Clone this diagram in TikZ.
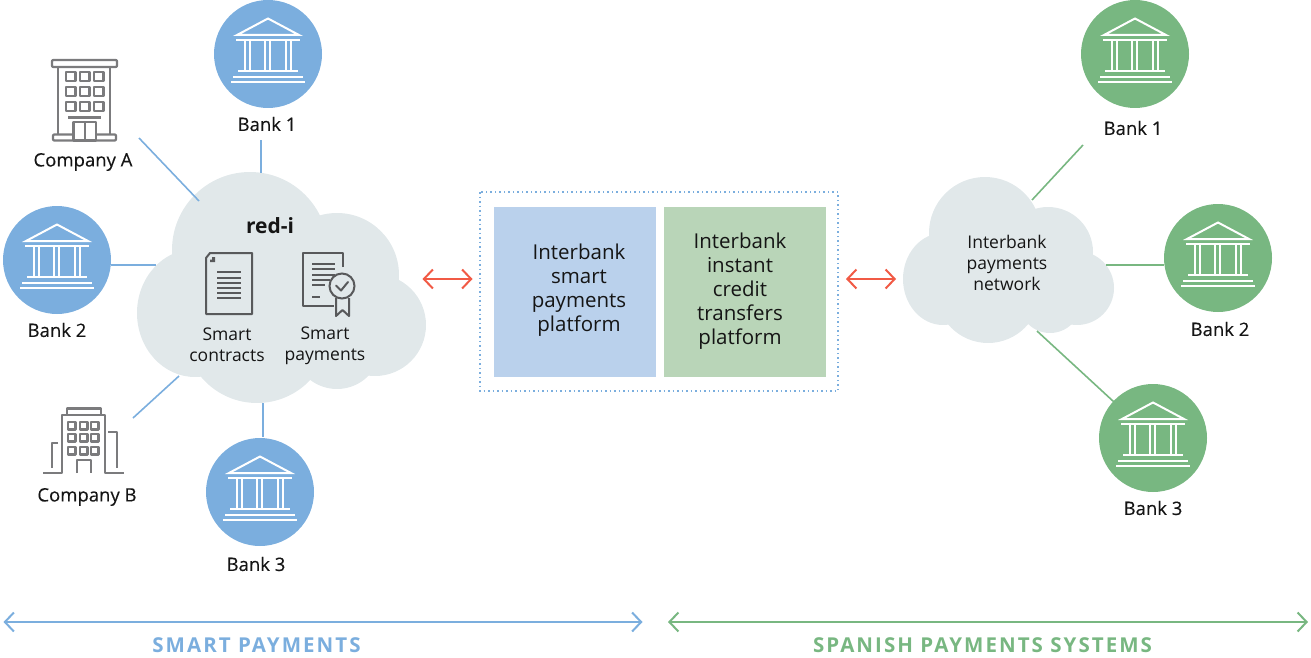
\documentclass[tikz,border=0pt]{standalone}
\usepackage{fontspec}
\setmainfont{Open Sans}
\newfontfamily\lblfont[FakeBold=0.2]{Open Sans}
\newfontfamily\capsfont[LetterSpace=10]{Open Sans}
\usetikzlibrary{arrows.meta}
\definecolor{blueline}{HTML}{7BAEDE}
\definecolor{greenline}{HTML}{78B781}
\definecolor{redline}{HTML}{F15A45}
\definecolor{cloudgrey}{HTML}{E1E8EA}
\definecolor{boxblue}{HTML}{BAD1EC}
\definecolor{boxgreen}{HTML}{B9D5B8}
\definecolor{bldgrey}{HTML}{7B7B7D}
\definecolor{docgrey}{HTML}{58595B}
\definecolor{inktext}{HTML}{151515}
\def\bankicon(#1,#2){\begin{scope}[shift={(#1,#2)},draw=white,line width=2pt]
	\draw (-31,-19) -- (0,-35.5) -- (31,-19) -- cycle;
	\draw (-32,-14) -- (32,-14);
	\foreach \colx in {-23,-18,-3,2,18,23}
		\draw[line width=1.7pt] (\colx,-14) -- (\colx,17);
	\draw (-30,17) -- (30,17);
	\draw (-35,23) -- (35,23);
	\draw (-37,28) -- (37,28);
\end{scope}}
\tikzset{
	bankblue/.style={circle,fill=blueline,minimum size=108pt,inner sep=0pt},
	bankgreen/.style={circle,fill=greenline,minimum size=108pt,inner sep=0pt},
	lbl/.style={text=inktext,font=\fontsize{18.5}{21}\lblfont,align=center,inner sep=0pt},
	cloudlbl/.style={text=inktext,font=\fontsize{17.5}{21}\selectfont,align=center,inner sep=0pt},
	boxlbl/.style={text=inktext,font=\fontsize{20.5}{24}\selectfont,align=center,inner sep=0pt},
	platbox/.style={minimum width=162pt,minimum height=170pt,inner sep=0pt},
	linkblue/.style={draw=blueline,line width=1.6pt},
	linkgreen/.style={draw=greenline,line width=1.6pt},
	twoway/.style={{Straight Barb[length=9pt,width=19pt,line width=2pt]}-{Straight Barb[length=9pt,width=19pt,line width=2pt]}},
	bld/.style={draw=bldgrey,line width=2.2pt,line join=round},
	doc/.style={draw=docgrey,line width=2pt}
}
\begin{document}
\begin{tikzpicture}[x=1pt,y=-1pt]
	\useasboundingbox (0,0) rectangle (1311,658);
	%%%%% CLOUDS %%%%%
	\fill[cloudgrey] (195,313) ellipse (58 and 64);
	\fill[cloudgrey] (250,250) circle (78);
	\fill[cloudgrey] (337,275) circle (62);
	\fill[cloudgrey] (375,325) circle (51);
	\fill[cloudgrey] (257,330) circle (73);
	\fill[cloudgrey] (337,345) circle (44);

	\fill[cloudgrey] (943,279) ellipse (40 and 46);
	\fill[cloudgrey] (985,233) circle (56);
	\fill[cloudgrey] (1048,252) circle (45);
	\fill[cloudgrey] (1077,288) circle (37);
	\fill[cloudgrey] (988,291) circle (52);
	\fill[cloudgrey] (1050,302) circle (31);

	%%%%% BANKS %%%%%
	\node[bankblue] (bankA) at (268,54) {};
	\node[bankblue] (bankB) at (57,260) {};
	\node[bankblue] (bankC) at (260,492) {};
	\node[bankgreen] (bankD) at (1135,54) {};
	\node[bankgreen] (bankE) at (1218,258) {};
	\node[bankgreen] (bankF) at (1153,438) {};
	\bankicon(268,54)
	\bankicon(57,260)
	\bankicon(260,492)
	\bankicon(1135,54)
	\bankicon(1218,258)
	\bankicon(1153,438)

	\node[lbl] (lblbankA) at (267,124) {Bank 1};
	\node[lbl] (lblbankB) at (57,330) {Bank 2};
	\node[lbl] (lblbankC) at (256,564) {Bank 3};
	\node[lbl] (lblbankD) at (1133,128) {Bank 1};
	\node[lbl] (lblbankE) at (1220,329) {Bank 2};
	\node[lbl] (lblbankF) at (1153,508) {Bank 3};
	\node[lbl] (lblcompA) at (83,162) {Company A};
	\node[lbl] (lblcompB) at (87,497) {Company B};

	%%%%% CONNECTORS %%%%%
	\coordinate (compAfrom) at (139,138);
	\coordinate (compAto) at (199,201);
	\coordinate (bankAfrom) at (261,140);
	\coordinate (bankAto) at (261,173);
	\coordinate (bankBfrom) at (111,265);
	\coordinate (bankBto) at (156,265);
	\coordinate (compBfrom) at (133,418);
	\coordinate (compBto) at (179,376);
	\coordinate (bankCfrom) at (263,403);
	\coordinate (bankCto) at (263,437);
	\draw[linkblue] (compAfrom) -- (compAto);
	\draw[linkblue] (bankAfrom) -- (bankAto);
	\draw[linkblue] (bankBfrom) -- (bankBto);
	\draw[linkblue] (compBfrom) -- (compBto);
	\draw[linkblue] (bankCfrom) -- (bankCto);

	\coordinate (bankDfrom) at (1083,145);
	\coordinate (bankDto) at (1032,200);
	\coordinate (bankEfrom) at (1164,265);
	\coordinate (bankEto) at (1106,265);
	\coordinate (bankFfrom) at (1114,402);
	\coordinate (bankFto) at (1037,331);
	\draw[linkgreen] (bankDfrom) -- (bankDto);
	\draw[linkgreen] (bankEfrom) -- (bankEto);
	\draw[linkgreen] (bankFfrom) -- (bankFto);

	%%%%% COMPANY A %%%%%
	\draw[bld,rounded corners=1pt] (52,60) rectangle (117,67);
	\draw[bld] (58,67) -- (58,134);
	\draw[bld] (110,67) -- (110,134);
	\foreach \winx in {66,80,94}
		\foreach \winy in {72,87,102}
			\draw[bld] (\winx,\winy) rectangle ++(9.5,9);
	\draw[bld] (68,117.5) -- (101,117.5);
	\draw[bld,rounded corners=1pt] (53,134.5) rectangle (116,140.5);
	\draw[bld,fill=white] (73.5,122) rectangle (96,140.5);
	\draw[bld] (85,122) -- (85,140.5);

	%%%%% COMPANY B %%%%%
	\draw[bld] (67,415) -- (67,408.5) -- (101,408.5) -- (101,415);
	\draw[bld] (43,473) -- (62,473) -- (62,415) -- (105,415) -- (105,473) -- (124,473);
	\foreach \winx in {68,80,91}
		\foreach \winy in {422,434,447}
			\draw[bld] (\winx,\winy) rectangle ++(7.5,7.5);
	\draw[bld] (77,473) -- (77,460) -- (91,460) -- (91,473);
	\draw[bld] (58,443) -- (52,443) -- (52,468);
	\draw[bld] (108,432) -- (117,432) -- (117,468);

	%%%%% RED-I CLOUD %%%%%
	\node[text=inktext,font=\fontsize{21}{24}\selectfont\bfseries,inner sep=0pt] (lblredi) at (270,226) {red-i};

	\draw[doc,line join=round] (210,253) -- (252,253) -- (252,314) -- (206,314) -- (206,258) -- cycle;
	\fill[docgrey] (212,257) -- (215,257) -- (215,262) -- (210,262) -- (210,259.5) -- (212,259.5) -- cycle;
	\foreach \liney in {272,277.5,283,288,293,298}
		\draw[doc] (217,\liney) -- (241,\liney);
	\node[cloudlbl] (lblcontracts) at (227,345) {Smart\\contracts};

	\draw[doc,line join=round] (343,267) -- (343,253) -- (303,253) -- (303,306) -- (334,306);
	\draw[doc] (312,264) -- (335,264);
	\draw[doc] (312,269) -- (335,269);
	\draw[doc] (312,274.5) -- (335,274.5);
	\draw[doc] (312,280) -- (330,280);
	\draw[doc] (312,285) -- (325,285);
	\draw[doc] (312,297) -- (320,297);
	\draw[doc] (342,286) circle (12.5);
	\draw[doc,line cap=round,line join=round] (336,285.5) -- (341,290.5) -- (348,282);
	\draw[doc,line join=round] (336,298) -- (336,316) -- (342.5,310) -- (349,316) -- (349,298);
	\node[cloudlbl] (lblpayments) at (325,345.5) {Smart\\payments};

	\node[cloudlbl] (lblnetwork) at (1007,263) {Interbank\\payments\\network};

	%%%%% PLATFORMS %%%%%
	\draw[draw=blueline,line width=1.2pt,dash pattern=on 1.5pt off 3pt] (480,192) rectangle (838,391);
	\node[platbox,fill=boxblue] (platblue) at (575,292) {};
	\node[platbox,fill=boxgreen] (platgreen) at (745,292) {};
	\node[boxlbl] (lblplatblue) at (579,290) {Interbank\\smart\\payments\\platform};
	\node[boxlbl] (lblplatgreen) at (740,291) {Interbank\\instant\\credit\\transfers\\platform};

	\coordinate (redAfrom) at (422.5,279);
	\coordinate (redAto) at (472.5,279);
	\coordinate (redBfrom) at (846,279);
	\coordinate (redBto) at (896,279);
	\draw[twoway,draw=redline,line width=2pt] (redAfrom) -- (redAto);
	\draw[twoway,draw=redline,line width=2pt] (redBfrom) -- (redBto);

	%%%%% BOTTOM %%%%%
	\coordinate (spanblueL) at (3.5,622);
	\coordinate (spanblueR) at (642.5,622);
	\coordinate (spangreenL) at (668,622);
	\coordinate (spangreenR) at (1308,622);
	\draw[twoway,draw=blueline,line width=2.6pt] (spanblueL) -- (spanblueR);
	\draw[twoway,draw=greenline,line width=2.6pt] (spangreenL) -- (spangreenR);
	\node[text=blueline,font=\fontsize{20.5}{24}\capsfont\bfseries,inner sep=0pt] (lblsmart) at (256.5,645.5) {SMART PAYMENTS};
	\node[text=greenline,font=\fontsize{20.5}{24}\capsfont\bfseries,inner sep=0pt] (lblspanish) at (982.5,645.5) {SPANISH PAYMENTS SYSTEMS};
\end{tikzpicture}
\end{document}
